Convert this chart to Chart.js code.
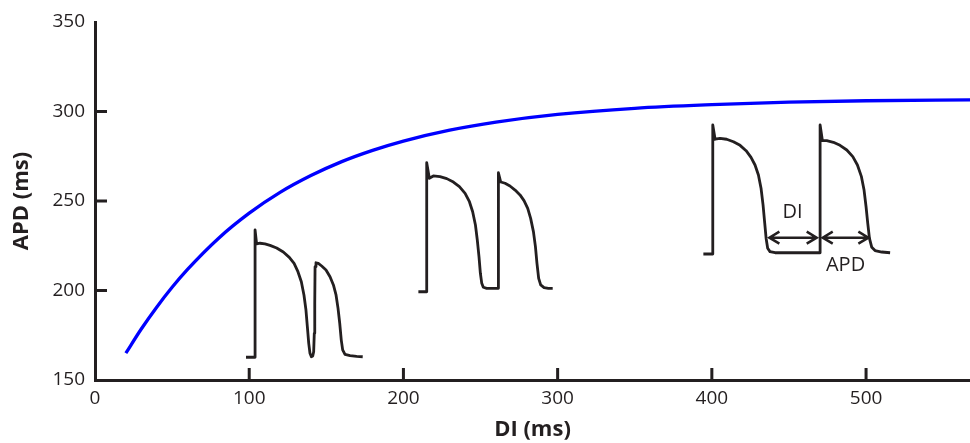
<!DOCTYPE html>
<html>
<head>
<meta charset="utf-8">
<title>APD restitution</title>
<script src="https://cdn.jsdelivr.net/npm/chart.js@4.4.1/dist/chart.umd.min.js"></script>
<style>
  html, body { margin: 0; padding: 0; background: #fff; }
  #chart { display: block; }
</style>
</head>
<body>
<canvas id="chart" width="970" height="443"></canvas>
<script>
// restitution curve: APD against diastolic interval
const curveDI  = [20, 30, 40, 50, 60, 80, 100, 120, 140, 160, 180, 200, 230, 260, 300, 350, 400, 450, 500, 568];
const curveAPD = [165, 178.5, 190.7, 201.8, 211.8, 229.1, 243.2, 254.8, 264.2, 272, 278.3, 283.5, 289.6, 294.1, 298.4, 301.8, 303.8, 305.2, 306, 306.5];

// action potential sketches, [DI, APD] pairs
const traceShort = [[97.9,162.7],[103.8,162.7],[103.8,233.8],[104.8,226.0],[107.0,226.4],[110.2,226.0],[113.5,225.2],[117.8,223.7],[122.1,221.5],[126.0,218.5],[129.1,215.2],[131.6,210.5],[133.8,204.9],[135.5,197.5],[136.8,189.1],[137.7,179.8],[138.6,170.5],[139.4,164.9],[140.3,163.0],[141.2,163.4],[141.8,165.8],[142.2,176.1],[142.5,192.8],[142.7,213.3],[143.3,215.5],[144.8,215.2],[147.0,213.7],[149.8,211.5],[152.4,207.7],[154.6,203.1],[156.3,197.5],[157.6,190.0],[158.7,181.7],[159.7,172.3],[160.6,166.8],[162.1,164.3],[165.4,163.6],[169.7,163.2],[173.6,163.0]];
const traceMid = [[209.7,199.3],[215.1,199.3],[215.1,271.4],[216.8,262.7],[219.4,264.0],[223.7,263.6],[228.1,262.5],[232.4,260.6],[236.3,258.0],[240.0,254.3],[242.8,249.6],[244.9,244.0],[246.7,236.6],[247.9,228.2],[249.0,218.9],[249.9,209.6],[250.8,204.0],[251.8,201.8],[254.0,201.2],[261.6,201.2],[261.6,265.8],[263.1,260.6],[265.9,259.9],[269.1,258.4],[272.4,256.1],[275.6,253.4],[278.2,250.2],[280.6,245.9],[282.5,240.3],[284.3,232.9],[285.6,224.5],[286.6,215.2],[287.7,206.8],[289.0,203.1],[291.2,201.6],[294.0,201.2],[296.8,201.2]];
const traceLong = [[394.5,220.4],[400.6,220.4],[400.6,292.5],[402.1,284.5],[405.3,285.0],[409.6,284.5],[414.0,283.1],[418.3,281.1],[422.2,278.1],[425.4,274.4],[428.0,270.1],[430.2,264.5],[431.9,257.1],[433.2,247.8],[434.3,237.5],[435.2,229.1],[436.2,223.6],[437.7,221.7],[441.0,221.1],[450.7,221.1],[461.5,221.1],[470.2,221.1],[470.2,292.5],[471.7,283.7],[474.5,283.7],[478.8,282.8],[483.1,281.1],[487.5,278.5],[491.4,274.8],[494.4,270.1],[497.0,263.6],[498.7,256.1],[500.0,246.8],[501.1,237.5],[502.2,229.1],[503.7,224.1],[505.8,222.3],[510.2,221.5],[515.6,221.1]];

// interval markers on the long trace
const arrowLevel = 229.5;
const diSpan  = [437.3, 468.0];
const apdSpan = [471.9, 501.5];
const spanLabels = ['DI', 'APD'];
const spanLabelDI  = [452.3, 486.7];
const spanLabelAPD = [243.6, 214.1];

const xTicks = [100, 200, 300, 400, 500];
const yTicks = [200, 250, 300];

const ink = '#231f20';
const toPoints = arr => arr.map(([x, y]) => ({ x, y }));

const traceStyle = {
  borderColor: ink,
  borderWidth: 2.8,
  pointRadius: 0,
  tension: 0,
  borderJoinStyle: 'round',
  fill: false
};

// tick marks sit inside the plot area
const innerTicks = {
  id: 'innerTicks',
  afterDraw(chart) {
    const { ctx, chartArea, scales: { x, y } } = chart;
    ctx.save();
    ctx.strokeStyle = ink;
    ctx.lineWidth = 3;
    ctx.beginPath();
    xTicks.forEach(v => {
      const px = x.getPixelForValue(v);
      ctx.moveTo(px, chartArea.bottom);
      ctx.lineTo(px, chartArea.bottom - 12);
    });
    yTicks.forEach(v => {
      const py = y.getPixelForValue(v);
      ctx.moveTo(chartArea.left, py);
      ctx.lineTo(chartArea.left + 12, py);
    });
    ctx.stroke();
    ctx.restore();
  }
};

function arrow(ctx, x1, x2, py) {
  const len = 10, half = 6;
  ctx.beginPath();
  ctx.moveTo(x1, py);
  ctx.lineTo(x2, py);
  ctx.moveTo(x1 + len, py - half);
  ctx.lineTo(x1, py);
  ctx.lineTo(x1 + len, py + half);
  ctx.moveTo(x2 - len, py - half);
  ctx.lineTo(x2, py);
  ctx.lineTo(x2 - len, py + half);
  ctx.stroke();
}

const spanMarkers = {
  id: 'spanMarkers',
  afterDatasetsDraw(chart) {
    const { ctx, scales: { x, y } } = chart;
    ctx.save();
    ctx.strokeStyle = ink;
    ctx.lineWidth = 2.5;
    ctx.lineJoin = 'miter';
    const py = y.getPixelForValue(arrowLevel);
    [diSpan, apdSpan].forEach(s => arrow(ctx, x.getPixelForValue(s[0]), x.getPixelForValue(s[1]), py));
    ctx.fillStyle = ink;
    ctx.font = '20px "Open Sans"';
    ctx.textAlign = 'center';
    ctx.textBaseline = 'middle';
    spanLabels.forEach((t, i) => {
      ctx.fillText(t, x.getPixelForValue(spanLabelDI[i]), y.getPixelForValue(spanLabelAPD[i]));
    });
    ctx.restore();
  }
};

new Chart(document.getElementById('chart'), {
  type: 'line',
  data: {
    datasets: [
      {
        data: curveDI.map((d, i) => ({ x: d, y: curveAPD[i] })),
        borderColor: '#0000ff',
        borderWidth: 3.3,
        pointRadius: 0,
        cubicInterpolationMode: 'monotone',
        fill: false
      },
      { data: toPoints(traceShort), ...traceStyle },
      { data: toPoints(traceMid), ...traceStyle },
      { data: toPoints(traceLong), ...traceStyle }
    ]
  },
  options: {
    responsive: false,
    animation: false,
    devicePixelRatio: 1,
    layout: { padding: { top: 22, right: 0, left: 0, bottom: 0 } },
    plugins: { legend: { display: false }, tooltip: { enabled: false } },
    scales: {
      x: {
        type: 'linear',
        min: 0,
        max: 567.4,
        afterFit: s => { s.height = 63; },
        border: { color: ink, width: 3 },
        grid: { display: false, drawTicks: false },
        ticks: {
          stepSize: 100,
          includeBounds: false,
          padding: 7,
          maxRotation: 0,
          color: ink,
          font: { family: '"Open Sans"', size: 19 },
          callback: v => (v % 100 === 0 ? v : '')
        },
        title: {
          display: true,
          text: 'DI (ms)',
          color: ink,
          font: { family: '"Open Sans"', size: 22, weight: 'bold' },
          padding: { top: 0, bottom: 0 }
        }
      },
      y: {
        min: 150,
        max: 350,
        afterFit: s => { s.width = 95; },
        border: { color: ink, width: 3 },
        grid: { display: false, drawTicks: false },
        ticks: {
          stepSize: 50,
          padding: 10,
          color: ink,
          font: { family: '"Open Sans"', size: 19 }
        },
        title: {
          display: true,
          text: 'APD (ms)',
          color: ink,
          font: { family: '"Open Sans"', size: 22, weight: 'bold' },
          padding: { top: 9, bottom: 0 }
        }
      }
    }
  },
  plugins: [innerTicks, spanMarkers]
});
</script>
</body>
</html>
